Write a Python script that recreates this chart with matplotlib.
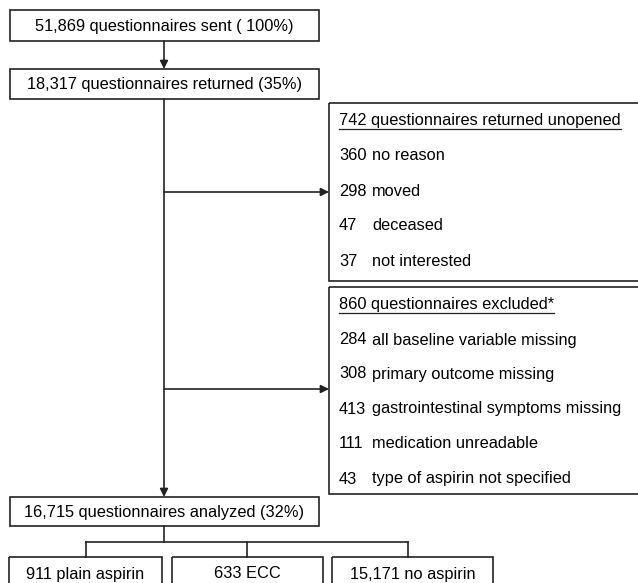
import matplotlib.pyplot as plt
from matplotlib.patches import Rectangle

plt.rcParams['font.family'] = ['Liberation Sans', 'DejaVu Sans']

# flow boxes in the main column
main_labels = ['51,869 questionnaires sent ( 100%)',
               '18,317 questionnaires returned (35%)',
               '16,715 questionnaires analyzed (32%)']

# returned unopened
unopened_header = '742 questionnaires returned unopened'
unopened_counts = ['360', '298', '47', '37']
unopened_reasons = ['no reason', 'moved', 'deceased', 'not interested']

# excluded
excluded_header = '860 questionnaires excluded*'
excluded_counts = ['284', '308', '413', '111', '43']
excluded_reasons = ['all baseline variable missing', 'primary outcome missing',
                    'gastrointestinal symptoms missing', 'medication unreadable',
                    'type of aspirin not specified']

# groups at the bottom
group_labels = ['911 plain aspirin', '633 ECC', '15,171 no aspirin']

W, H = 638, 583
fig = plt.figure(figsize=(W / 100, H / 100), dpi=100)
ax = fig.add_axes([0, 0, 1, 1])
ax.set_xlim(0, W)
ax.set_ylim(H, 0)
ax.axis('off')

lc = '#222222'
lw = 1.2
fs = 11.8


def box(x0, y0, x1, y1):
    ax.add_patch(Rectangle((x0, y0), x1 - x0, y1 - y0, fill=False,
                           edgecolor=lc, lw=lw, clip_on=True))


def arrow(x0, y0, x1, y1):
    ax.annotate('', xy=(x1, y1), xytext=(x0, y0),
                arrowprops=dict(arrowstyle='-|>', color=lc, lw=lw,
                                mutation_scale=12, shrinkA=0, shrinkB=0))


# main column
main_boxes = [(10, 10, 319, 41), (10, 69, 319, 99), (10, 497, 319, 526)]
for (x0, y0, x1, y1), t in zip(main_boxes, main_labels):
    box(x0, y0, x1, y1)
    ax.text((x0 + x1) / 2, (y0 + y1) / 2 + 1, t, ha='center', va='center', fontsize=fs)

cx = 164
arrow(cx, 41, cx, 69)
arrow(cx, 99, cx, 497)
arrow(cx, 192, 329, 192)
arrow(cx, 389, 329, 389)

# side boxes
fig.canvas.draw()
renderer = fig.canvas.get_renderer()


def side_box(y0, y1, header, counts, reasons, rows, lx):
    box(329, y0, 660, y1)
    t = ax.text(339, rows[0], header, ha='left', va='center', fontsize=fs)
    bb = t.get_window_extent(renderer=renderer)
    # underline
    ax.plot([bb.x0, bb.x1], [rows[0] + 8.5, rows[0] + 8.5], color=lc, lw=0.9)
    for c, r, y in zip(counts, reasons, rows[1:]):
        ax.text(339, y, c, ha='left', va='center', fontsize=fs)
        ax.text(lx, y, r, ha='left', va='center', fontsize=fs)


side_box(103, 281, unopened_header, unopened_counts, unopened_reasons,
         [120, 156, 191, 226, 261], 372)
side_box(287, 494, excluded_header, excluded_counts, excluded_reasons,
         [304, 340, 374, 409, 444, 479], 372)

# bottom split
ax.plot([cx, cx], [526, 542], color=lc, lw=lw)
group_boxes = [(9, 162), (172, 323), (332, 493)]
centers = [86, 247, 408]
ax.plot([centers[0], centers[-1]], [542, 542], color=lc, lw=lw)
for (x0, x1), xc, t in zip(group_boxes, centers, group_labels):
    ax.plot([xc, xc], [542, 557], color=lc, lw=lw)
    box(x0, 557, x1, 610)
    ax.text((x0 + x1) / 2, 574, t, ha='center', va='center', fontsize=fs)

fig.savefig('out.png', dpi=100)
